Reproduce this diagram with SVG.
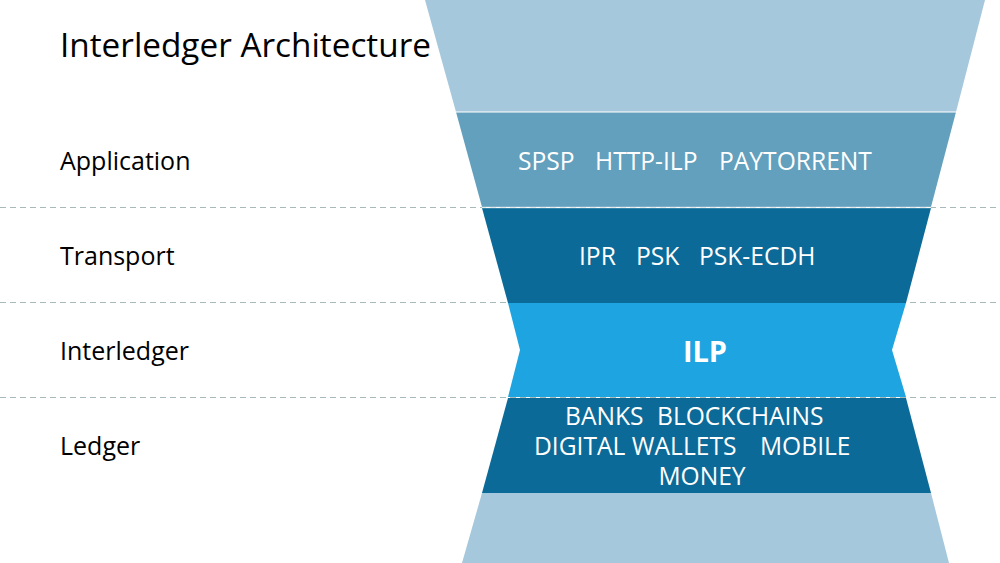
<svg xmlns="http://www.w3.org/2000/svg" width="1000" height="563" viewBox="0 0 1000 563">
<style>
.lbl{font-family:"Open Sans","Liberation Sans",sans-serif;font-size:25px;fill:#000}
.title{font-family:"Open Sans","Liberation Sans",sans-serif;font-size:33.3px;fill:#000}
.bt{font-family:"Open Sans","Liberation Sans",sans-serif;font-size:24.6px;fill:#fff}
.ilp{font-family:"Open Sans","Liberation Sans",sans-serif;font-size:29px;font-weight:bold;fill:#fff}
.dash{stroke:#a7b9b9;stroke-width:1.2;stroke-dasharray:6,4;fill:none}
.sep{stroke:#fff;stroke-width:1.5;opacity:0.7}
</style>
<rect width="1000" height="563" fill="#fff"/>
<g id="connectors">
<line class="dash" x1="0" y1="207.5" x2="1000" y2="207.5"/>
<line class="dash" x1="0" y1="302.5" x2="1000" y2="302.5"/>
<line class="dash" x1="0" y1="397.5" x2="1000" y2="397.5"/>
</g>
<g id="top-band"><polygon points="425,0 985,0 956,112 456,112" fill="#a6c8dc"/></g>
<g id="application">
<polygon points="456,112 956,112 931,207 482,207" fill="#62a0bd"/>
<line class="sep" x1="456" y1="112" x2="956" y2="112"/>
<text class="bt" y="170"><tspan x="518">SPSP</tspan><tspan x="595">HTTP-ILP</tspan><tspan x="719">PAYTORRENT</tspan></text>
</g>
<g id="transport">
<polygon points="482,208 931,208 906,303 508,303" fill="#0b6a98"/>
<line class="sep" x1="482" y1="207.5" x2="931" y2="207.5"/>
<text class="bt" y="265"><tspan x="579">IPR</tspan><tspan x="636">PSK</tspan><tspan x="699">PSK-ECDH</tspan></text>
</g>
<g id="interledger">
<polygon points="508,303 906,303 892,350 906,397 508,397 520,350" fill="#1ea4e0"/>
<text class="ilp" x="705" y="362" text-anchor="middle">ILP</text>
</g>
<g id="ledger">
<polygon points="508,398 906,398 931,493 482,493" fill="#0b6a98"/>
<text class="bt" y="425"><tspan x="565">BANKS</tspan><tspan x="657">BLOCKCHAINS</tspan></text>
<text class="bt" y="455"><tspan x="534">DIGITAL WALLETS</tspan><tspan x="760">MOBILE</tspan></text>
<text class="bt" x="702" y="485" text-anchor="middle">MONEY</text>
</g>
<g id="bottom-band"><polygon points="482,493 931,493 949,563 462,563" fill="#a6c8dc"/></g>
<g id="labels">
<text class="title" x="60" y="57">Interledger Architecture</text>
<text class="lbl" x="60" y="170">Application</text>
<text class="lbl" x="60" y="265">Transport</text>
<text class="lbl" x="60" y="360">Interledger</text>
<text class="lbl" x="60" y="455">Ledger</text>
</g>
</svg>
